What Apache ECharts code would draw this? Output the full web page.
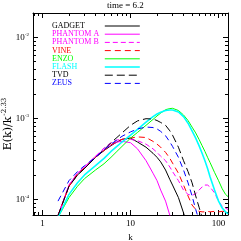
<!DOCTYPE html>
<html><head><meta charset="utf-8">
<script src="https://cdn.jsdelivr.net/npm/echarts@6/dist/echarts.min.js"></script>
<style>html,body{margin:0;padding:0;background:#fff}#c{width:241px;height:241px}</style>
</head><body><div id="c"></div>
<script>
const kGrid = [1.5, 2, 2.5, 3, 4, 5, 6, 7, 8, 10, 12, 15, 18, 20, 22, 25, 28, 30, 35, 40, 45, 50, 55, 60, 65, 70, 75, 80, 90, 100, 110, 120, 128];
const gadget = [6.3e-5, 1.45e-4, 2.0e-4, 2.4e-4, 3.3e-4, 4.0e-4, 4.6e-4, 5.1e-4, 5.5e-4, 5.7e-4, 5.1e-4, 4.4e-4, 3.7e-4, 3.3e-4, 2.9e-4, 2.3e-4, 1.75e-4, 1.5e-4, 1.05e-4, 6.8e-5, 4.5e-5];
const phantomA = [6.3e-5, 1.5e-4, 2.1e-4, 2.5e-4, 3.4e-4, 4.1e-4, 4.7e-4, 5.1e-4, 5.2e-4, 5.0e-4, 4.2e-4, 3.0e-4, 2.1e-4, 1.7e-4, 1.3e-4, 9.5e-5, 6.3e-5, 5.0e-5];
const phantomB = [6.3e-5, 1.5e-4, 2.1e-4, 2.5e-4, 3.4e-4, 4.3e-4, 5.0e-4, 5.4e-4, 5.5e-4, 5.5e-4, 5.3e-4, 4.8e-4, 4.2e-4, 3.8e-4, 3.4e-4, 3.0e-4, 2.5e-4, 2.2e-4, 1.7e-4, 1.3e-4, 1.15e-4, 1.12e-4, 1.17e-4, 1.3e-4, 1.42e-4, 1.5e-4, 1.5e-4, 1.42e-4, 1.2e-4, 9.5e-5, 8.2e-5, 7.8e-5, 7.5e-5];
const vine = [6.3e-5, 1.45e-4, 2.05e-4, 2.45e-4, 3.3e-4, 4.0e-4, 4.7e-4, 5.2e-4, 5.5e-4, 5.7e-4, 5.9e-4, 5.8e-4, 5.2e-4, 4.8e-4, 4.4e-4, 3.8e-4, 3.2e-4, 2.8e-4, 2.1e-4, 1.5e-4, 1.1e-4, 8.5e-5, 7.5e-5, 7.1e-5, 7.0e-5, 7.0e-5, 7.1e-5, 7.0e-5, 7.1e-5, 7.0e-5, 7.1e-5, 7.0e-5, 7.0e-5];
const enzo = [6.0e-5, 1.05e-4, 1.45e-4, 1.8e-4, 2.3e-4, 2.75e-4, 3.3e-4, 3.9e-4, 4.5e-4, 5.7e-4, 6.7e-4, 8.2e-4, 9.7e-4, 1.07e-3, 1.16e-3, 1.28e-3, 1.32e-3, 1.33e-3, 1.25e-3, 1.1e-3, 9.4e-4, 7.8e-4, 6.6e-4, 5.5e-4, 4.6e-4, 3.9e-4, 3.3e-4, 2.85e-4, 2.15e-4, 1.7e-4, 1.35e-4, 1.15e-4, 1.08e-4];
const flash = [6.0e-5, 1.15e-4, 1.6e-4, 2.0e-4, 2.6e-4, 3.2e-4, 3.9e-4, 4.5e-4, 5.1e-4, 6.2e-4, 7.3e-4, 9.0e-4, 1.05e-3, 1.13e-3, 1.19e-3, 1.25e-3, 1.27e-3, 1.27e-3, 1.2e-3, 1.05e-3, 8.7e-4, 7.0e-4, 5.7e-4, 4.6e-4, 3.7e-4, 3.0e-4, 2.4e-4, 1.9e-4, 1.3e-4, 9.5e-5, 7.8e-5, 7.0e-5, 6.6e-5];
const tvd = [6.3e-5, 1.45e-4, 2.0e-4, 2.4e-4, 3.3e-4, 4.1e-4, 5.0e-4, 5.8e-4, 6.6e-4, 8.2e-4, 9.3e-4, 9.9e-4, 9.8e-4, 9.4e-4, 8.9e-4, 8.2e-4, 7.0e-4, 6.2e-4, 4.4e-4, 3.0e-4, 2.2e-4, 1.6e-4, 1.1e-4, 8.0e-5, 6.0e-5];
const zeus = [9.5e-5, 1.7e-4, 2.2e-4, 2.6e-4, 3.3e-4, 4.1e-4, 4.8e-4, 5.4e-4, 6.0e-4, 6.8e-4, 7.4e-4, 7.8e-4, 7.7e-4, 7.4e-4, 6.9e-4, 6.1e-4, 5.1e-4, 4.5e-4, 3.3e-4, 2.3e-4, 1.6e-4, 1.1e-4, 7.5e-5, 5.5e-5];

const xMajor = [1, 10, 100];
const xMinor = [0.8, 0.9, 2, 3, 4, 5, 6, 7, 8, 9, 20, 30, 40, 50, 60, 70, 80, 90, 110, 120];
const yMajor = [1e-4, 1e-3, 1e-2];
const yMinor = [7e-5, 8e-5, 9e-5, 2e-4, 3e-4, 4e-4, 5e-4, 6e-4, 7e-4, 8e-4, 9e-4, 2e-3, 3e-3, 4e-3, 5e-3, 6e-3, 7e-3, 8e-3, 9e-3];

const names = ['GADGET', 'PHANTOM A', 'PHANTOM B', 'VINE', 'ENZO', 'FLASH', 'TVD', 'ZEUS'];
const colors = ['#000000', '#ff00ff', '#ff00ff', '#ff0000', '#00ff00', '#00ffff', '#000000', '#0000ff'];
const dashes = ['solid', 'solid', [5, 3], [6, 4], 'solid', 'solid', [8, 4], [6, 4]];
const widths = [1, 1, 1, 1, 1, 1.6, 1, 1];
const values = [gadget, phantomA, phantomB, vine, enzo, flash, tvd, zeus];
const yTitle = 'E(k)/k';
const yTitleExp = '-2.33';

const FONT = 'Liberation Serif';
const X_MIN = 0.78, X_MAX = 128, Y_MIN = 6.4e-5, Y_MAX = 0.02;

function xAxisDef(pos, major) {
  return {
    type: 'log', logBase: 10, min: X_MIN, max: X_MAX, position: pos,
    axisLine: { show: major, lineStyle: { color: '#000', width: 1 } },
    axisTick: { show: true, inside: true, length: major ? 5 : 3, customValues: major ? xMajor : xMinor, lineStyle: { color: '#000', width: 1 } },
    axisLabel: { show: major && pos === 'bottom', customValues: xMajor, color: '#000', fontFamily: FONT, fontSize: 9, margin: 4 },
    splitLine: { show: false }, minorTick: { show: false },
    name: (major && pos === 'bottom') ? 'k' : '', nameLocation: 'middle', nameGap: 14,
    nameTextStyle: { color: '#000', fontFamily: FONT, fontSize: 9 }
  };
}
function yAxisDef(pos, major) {
  return {
    type: 'log', logBase: 10, min: Y_MIN, max: Y_MAX, position: pos,
    axisLine: { show: major, lineStyle: { color: '#000', width: 1 } },
    axisTick: { show: true, inside: true, length: major ? 5 : 3, customValues: major ? yMajor : yMinor, lineStyle: { color: '#000', width: 1 } },
    axisLabel: {
      show: major && pos === 'left', customValues: yMajor, color: '#000', fontFamily: FONT, fontSize: 9, margin: 4,
      formatter: v => '10{s|' + Math.round(Math.log10(v)) + '}',
      rich: { s: { fontSize: 5, fontFamily: FONT, color: '#000', verticalAlign: 'top', padding: [0, 0, 5, 0] } }
    },
    splitLine: { show: false }, minorTick: { show: false }
  };
}

const series = names.map((n, i) => ({
  name: n, type: 'line', xAxisIndex: 0, yAxisIndex: 0, symbol: 'none', smooth: false, clip: true,
  data: kGrid.map((k, j) => [k, values[i][j] === undefined ? null : values[i][j]]).filter(p => p[1] !== null),
  lineStyle: { color: colors[i], width: widths[i], type: dashes[i] },
  itemStyle: { color: colors[i] }, z: 2
}));

const legendCommon = { orient: 'vertical', top: 22, itemHeight: 8, itemGap: 0.2, padding: 0, selectedMode: false };

const chart = echarts.init(document.getElementById('c'), null, { renderer: 'canvas' });
chart.setOption({
  animation: false,
  backgroundColor: '#ffffff',
  title: { text: 'time = 6.2', left: 107, top: 1, padding: 0, textStyle: { fontFamily: FONT, fontSize: 9, fontWeight: 'normal', color: '#000' } },
  grid: { left: 33, right: 13, top: 13, bottom: 26, containLabel: false, outerBoundsMode: 'none' },
  graphic: [{
    type: 'text', x: 8, y: 124, rotation: Math.PI / 2, silent: true,
    style: {
      text: yTitle + '{s|' + yTitleExp + '}',
      fill: '#000', fontFamily: 'DejaVu Serif', fontSize: 11, align: 'center', verticalAlign: 'middle',
      rich: { s: { fontFamily: 'DejaVu Serif', fontSize: 7, fill: '#000', padding: [0, 0, 7, 1] } }
    }
  }],
  legend: [
    Object.assign({}, legendCommon, {
      left: 47, itemWidth: 0, icon: 'rect', itemStyle: { opacity: 0 },
      data: names.map((n, i) => ({ name: n, textStyle: { color: colors[i] } })),
      textStyle: { fontFamily: FONT, fontSize: 8, lineHeight: 8 }
    }),
    Object.assign({}, legendCommon, {
      left: 104, itemWidth: 35, itemStyle: { opacity: 0 },
      formatter: () => ' ',
      data: names.map((n, i) => ({ name: n, lineStyle: { width: widths[i] } })),
      textStyle: { fontFamily: FONT, fontSize: 8, lineHeight: 8 }
    })
  ],
  xAxis: [xAxisDef('bottom', true), xAxisDef('bottom', false), xAxisDef('top', true), xAxisDef('top', false)],
  yAxis: [yAxisDef('left', true), yAxisDef('left', false), yAxisDef('right', true), yAxisDef('right', false)],
  series: series
});
</script></body></html>
